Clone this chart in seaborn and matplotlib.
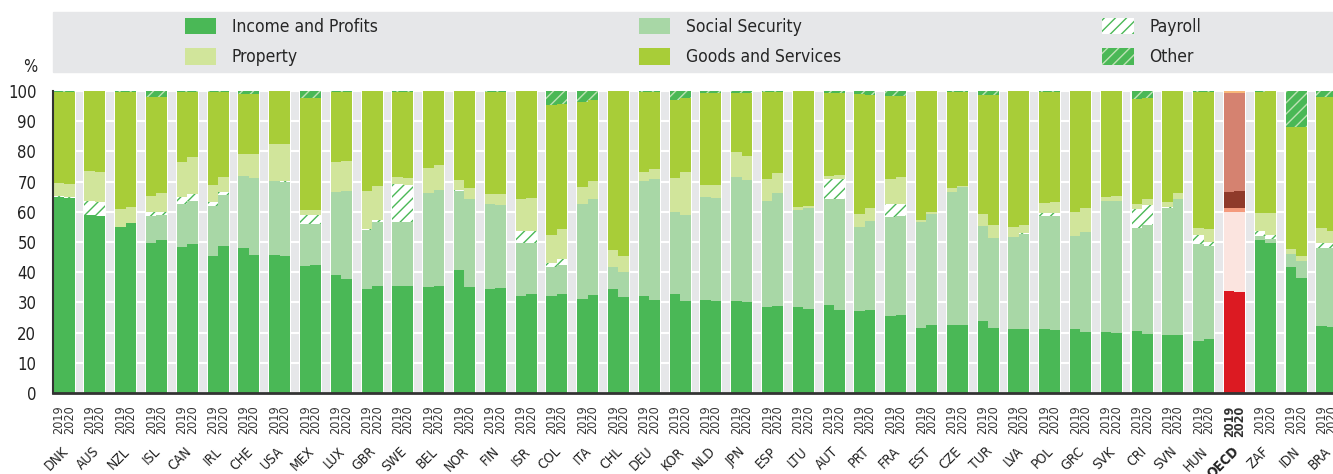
import matplotlib
matplotlib.use('Agg')
import matplotlib.pyplot as plt
from matplotlib.patches import Rectangle, Patch
from matplotlib import font_manager
import seaborn as sns
import pandas as pd

# 국가 / 연도
countries = ['DNK', 'AUS', 'NZL', 'ISL', 'CAN', 'IRL', 'CHE', 'USA', 'MEX', 'LUX',
             'GBR', 'SWE', 'BEL', 'NOR', 'FIN', 'ISR', 'COL', 'ITA', 'CHL', 'DEU',
             'KOR', 'NLD', 'JPN', 'ESP', 'LTU', 'AUT', 'PRT', 'FRA', 'EST', 'CZE',
             'TUR', 'LVA', 'POL', 'GRC', 'SVK', 'CRI', 'SVN', 'HUN', 'OECD', 'ZAF',
             'IDN', 'BRA']
years = ['2019', '2020']

income_2019 = [65.0, 59.0, 55.0, 49.7, 48.5, 45.4, 48.1, 45.8, 42.1, 39.1, 34.5, 35.5, 35.2, 40.8,
               34.5, 32.2, 32.2, 31.2, 34.5, 32.2, 32.9, 30.9, 30.5, 28.6, 28.6, 29.2, 27.2, 25.6,
               21.6, 22.6, 23.9, 21.3, 21.3, 21.3, 20.3, 20.6, 19.3, 17.3, 33.8, 50.7, 41.8, 22.3]
income_2020 = [64.5, 58.7, 56.4, 50.7, 49.4, 48.7, 45.8, 45.4, 42.4, 37.8, 35.5, 35.5, 35.5, 35.2,
               34.8, 32.9, 32.9, 32.5, 31.9, 30.9, 30.5, 30.5, 30.2, 28.9, 27.9, 27.6, 27.6, 25.9,
               22.6, 22.6, 21.6, 21.3, 20.9, 20.3, 20.0, 19.6, 19.3, 18.0, 33.5, 49.7, 38.1, 21.9]
social_2019 = [0, 0, 0, 9.0, 14.1, 16.6, 23.6, 24.3, 13.9, 27.5, 19.6, 21.2, 31.1, 26.2,
               28.1, 17.6, 9.4, 31.4, 7.3, 38.0, 26.9, 34.0, 41.1, 35.0, 32.0, 35.1, 27.8, 32.7,
               35.1, 44.0, 31.4, 30.4, 37.4, 30.7, 43.3, 34.1, 42.0, 32.1, 26.2, 1.3, 4.3, 25.8]
social_2020 = [0, 0, 0, 8.3, 14.2, 16.7, 25.5, 24.6, 13.6, 29.1, 21.1, 21.2, 31.8, 28.9,
               27.5, 16.9, 9.5, 31.8, 8.2, 40.0, 28.3, 34.1, 40.4, 37.4, 33.4, 36.7, 29.4, 32.8,
               36.7, 45.6, 29.8, 31.4, 37.8, 33.1, 43.6, 36.1, 45.0, 30.7, 26.5, 1.3, 5.7, 26.2]
payroll_2019 = [0.3, 4.6, 0, 1.1, 2.2, 1.3, 0, 0.2, 2.8, 0, 0.2, 12.5, 0, 0.2,
                0, 4.0, 1.5, 0, 0, 0, 0.2, 0, 0, 0, 0, 6.6, 0, 4.3,
                0, 0, 0, 0, 0.9, 0, 0, 6.3, 0.3, 3.0, 1.3, 1.7, 0, 1.6]
payroll_2020 = [0.3, 4.7, 0, 1.0, 2.3, 1.0, 0, 0.3, 3.1, 0, 0.6, 12.3, 0, 0.2,
                0, 4.0, 2.0, 0, 0, 0, 0.2, 0, 0, 0, 0, 6.6, 0, 3.9,
                0, 0, 0, 0.2, 0.9, 0, 0, 6.6, 0, 1.4, 1.3, 1.4, 0, 1.6]
property_2019 = [4.2, 9.9, 6.0, 5.5, 11.8, 5.6, 7.5, 12.2, 1.8, 9.9, 12.6, 2.2, 8.2, 3.4,
                 3.3, 10.5, 9.3, 5.6, 5.6, 3.0, 11.2, 4.0, 8.2, 7.3, 1.0, 1.0, 4.3, 8.3,
                 0.6, 1.3, 4.0, 3.3, 3.4, 8.0, 1.3, 1.6, 1.7, 2.3, 5.3, 5.9, 1.6, 5.0]
property_2020 = [4.3, 9.8, 5.2, 6.3, 12.3, 5.2, 7.9, 12.2, 1.5, 9.9, 11.4, 2.2, 8.2, 3.6,
                 3.6, 10.8, 10.0, 5.9, 5.3, 3.3, 14.2, 4.3, 7.9, 6.6, 0.7, 1.3, 4.3, 9.0,
                 0.7, 0.4, 4.3, 2.8, 3.7, 7.9, 1.7, 2.0, 2.0, 4.3, 5.6, 7.2, 1.6, 4.0]
goods_2019 = [30.3, 26.5, 38.8, 32.6, 23.1, 30.8, 19.8, 17.5, 37.2, 23.3, 33.1, 28.3, 25.5, 29.4,
              33.8, 35.7, 43.0, 28.2, 52.6, 26.5, 25.8, 30.4, 19.5, 28.9, 38.4, 27.4, 39.7, 27.4,
              42.7, 31.8, 39.4, 45.0, 36.7, 40.0, 35.1, 34.8, 36.7, 45.0, 32.7, 40.1, 40.4, 43.3]
goods_2020 = [30.6, 26.8, 38.2, 31.6, 21.5, 28.1, 19.8, 17.5, 37.2, 23.0, 31.4, 28.5, 24.5, 32.1,
              33.8, 35.4, 41.4, 26.8, 54.6, 25.5, 24.5, 30.4, 20.8, 26.9, 38.0, 27.1, 37.4, 26.7,
              40.0, 31.1, 43.0, 44.3, 36.4, 38.7, 34.7, 33.4, 33.7, 45.3, 32.4, 40.4, 42.7, 44.3]
other_2019 = [0.2, 0, 0.2, 2.1, 0.3, 0.3, 1.0, 0, 2.2, 0.2, 0, 0.3, 0, 0,
              0.3, 0, 4.6, 3.6, 0, 0.3, 3.0, 0.7, 0.7, 0.2, 0, 0.7, 1.0, 1.7,
              0, 0.3, 1.3, 0, 0.3, 0, 0, 2.6, 0, 0.3, 0.7, 0.3, 11.9, 2.0]
other_2020 = [0.2, 0, 0.2, 2.1, 0.3, 0.3, 1.0, 0, 2.2, 0.2, 0, 0.3, 0, 0,
              0.3, 0, 4.2, 3.0, 0, 0.3, 2.3, 0.7, 0.7, 0.2, 0, 0.7, 1.3, 1.7,
              0, 0.3, 1.3, 0, 0.3, 0, 0, 2.3, 0, 0.3, 0.7, 0, 11.9, 2.0]

# 범주: (이름, 2019, 2020, 색, 해치색, 해치, OECD 색)
layers = [
    ('Income and Profits', income_2019, income_2020, '#4ab856', '#4ab856', None, '#dc1a22'),
    ('Social Security', social_2019, social_2020, '#a8d7a6', '#a8d7a6', None, '#fbe4df'),
    ('Payroll', payroll_2019, payroll_2020, 'white', '#4ab856', '///', '#f49a7d'),
    ('Property', property_2019, property_2020, '#d1e59b', '#d1e59b', None, '#8f3a2a'),
    ('Goods and Services', goods_2019, goods_2020, '#a8cd38', '#a8cd38', None, '#d58270'),
    ('Other', other_2019, other_2020, '#4ab856', '#bfe3b5', '///', '#f8b97a'),
]

# long 형식 데이터프레임 + 누적값
rows = []
for i, c in enumerate(countries):
    for j, yr in enumerate(years):
        row = {'country': c, 'year': yr, 'x': i + (-0.17 if j == 0 else 0.17)}
        total = 0
        for name, v19, v20, *_ in layers:
            total += (v19 if j == 0 else v20)[i]
            row[name] = total
        rows.append(row)
df = pd.DataFrame(rows)
is_oecd = df['country'] == 'OECD'

sns.set_style('white')
# 좁은 글꼴이 있으면 사용
names = {f.name for f in font_manager.fontManager.ttflist}
fam = [n for n in ['Liberation Sans Narrow', 'DejaVu Sans Condensed'] if n in names]
plt.rcParams['font.family'] = fam + ['DejaVu Sans']
plt.rcParams['font.stretch'] = 'condensed'
plt.rcParams['hatch.linewidth'] = 1.0

fig = plt.figure(figsize=(13.33, 4.74), dpi=100)
ax = fig.add_axes([53 / 1333, 1 - 393 / 474, 1 - 53 / 1333, 302 / 474])
ax.set_facecolor('#e6e7e9')

# 그룹 배경 (흰색 띠)
for i in range(len(countries)):
    ax.axvspan(i - 0.375, i + 0.375, color='white', lw=0, zorder=0.3)

# 위 범주부터 누적 막대를 겹쳐 그림
for name, v19, v20, col, hcol, hatch, ocol in reversed(layers):
    sns.barplot(data=df[~is_oecd], x='x', y=name, native_scale=True, width=1.0,
                color=col, edgecolor=hcol, linewidth=0, hatch=hatch, saturation=1,
                errorbar=None, ax=ax, zorder=2)
    sns.barplot(data=df[is_oecd], x='x', y=name, native_scale=True, width=1.0,
                color=ocol, edgecolor=ocol, linewidth=0, saturation=1,
                errorbar=None, ax=ax, zorder=2)

ax.set_xlim(-0.36, 41.2)
ax.set_ylim(0, 100)
ax.set_yticks(range(0, 101, 10))
ax.yaxis.grid(True, color='white', lw=1.5)
ax.set_axisbelow(True)
ax.set_xlabel('')
ax.set_ylabel('')

ax.set_xticks(df['x'])
ax.set_xticklabels(df['year'], rotation=90, fontsize=9, color='#333333')
for lbl, c in zip(ax.get_xticklabels(), df['country']):
    if c == 'OECD':
        lbl.set_fontweight('bold')
ax.tick_params(axis='x', direction='in', length=3.5, width=1, color='#333333', pad=9)
ax.tick_params(axis='y', direction='in', length=3, width=1, color='#333333', labelsize=12,
               labelcolor='#222222', pad=12)

for s in ['top', 'right']:
    ax.spines[s].set_visible(False)
ax.spines['left'].set_color('#333333')
ax.spines['left'].set_linewidth(1.5)
ax.spines['bottom'].set_color('#333333')
ax.spines['bottom'].set_linewidth(2)

# 국가 라벨
for i, c in enumerate(countries):
    ax.text(i - 0.1, -0.17, c, transform=ax.get_xaxis_transform(), rotation=45,
            rotation_mode='anchor', ha='right', va='top', fontsize=10,
            color='#222222', fontweight='bold' if c == 'OECD' else 'normal')

fig.text(30 / 1333, 1 - 67 / 474, '%', ha='center', va='center', fontsize=12, color='#222222')

# 범례
fig.patches.append(Rectangle((53 / 1333, 1 - 72 / 474), 1, 60 / 474, transform=fig.transFigure,
                             color='#e6e7e9', zorder=0))
handles = {}
for name, v19, v20, col, hcol, hatch, ocol in layers:
    handles[name] = Patch(facecolor=col, edgecolor=hcol, hatch=hatch, linewidth=0)
order = ['Income and Profits', 'Property', 'Social Security', 'Goods and Services', 'Payroll', 'Other']
fig.legend([handles[n] for n in order], order, ncol=3, loc='center',
           bbox_to_anchor=(693 / 1333, 1 - 42 / 474), frameon=False, fontsize=12.5,
           handlelength=1.8, handleheight=1.1, handletextpad=0.9, columnspacing=15.06,
           labelspacing=0.7)

fig.savefig('out.png', dpi=100)
